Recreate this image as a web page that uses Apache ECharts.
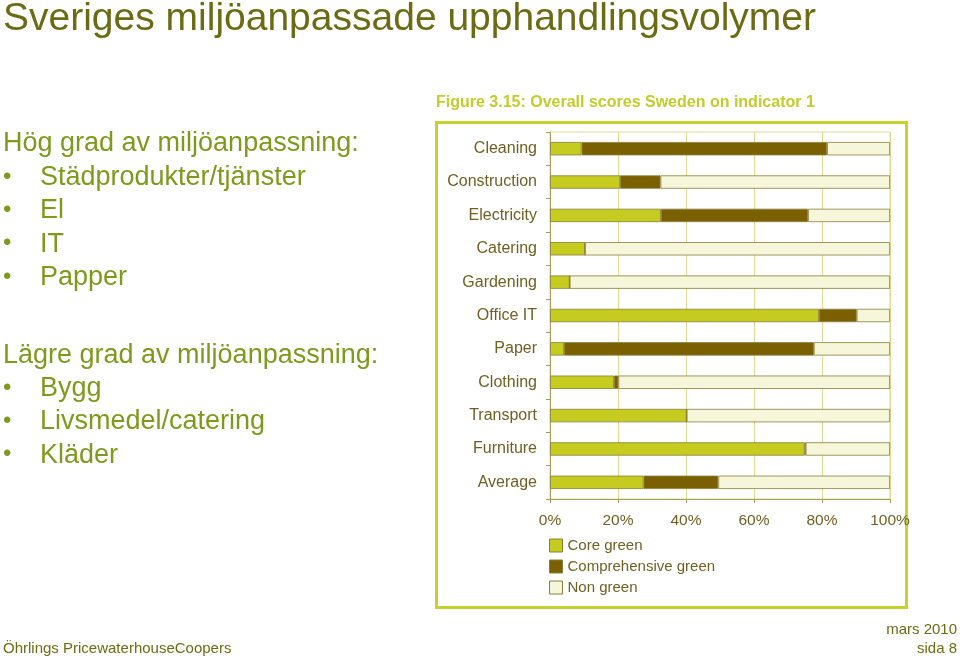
<!DOCTYPE html>
<html><head><meta charset="utf-8">
<script src="https://cdn.jsdelivr.net/npm/echarts@6/dist/echarts.min.js"></script>
<style>html,body{margin:0;padding:0;background:#fff}#c{width:960px;height:658px}</style>
</head><body><div id="c"></div>
<script>
const categories = ['Cleaning','Construction','Electricity','Catering','Gardening','Office IT','Paper','Clothing','Transport','Furniture','Average'];
const coreGreen = [9.3, 20.6, 32.6, 10.3, 5.8, 79.1, 4.1, 18.8, 40.2, 74.9, 27.5];
const comprehensiveGreen = [72.2, 11.9, 43.3, 0, 0, 11.1, 73.5, 1.3, 0, 0.3, 22.0];
const nonGreen = [18.5, 67.5, 24.1, 89.7, 94.2, 9.8, 22.4, 79.9, 59.8, 24.8, 50.5];
const xTicks = ['0%','20%','40%','60%','80%','100%'];
const seriesNames = ['Core green','Comprehensive green','Non green'];
const leftHigh = ['Städprodukter/tjänster','El','IT','Papper'];
const leftLow = ['Bygg','Livsmedel/catering','Kläder'];

const olive = '#6b6b14';
const leftGreen = '#7d9a1c';
const labelCol = '#6e5f22';
const font = 'Liberation Sans, Arial, Helvetica, sans-serif';

const chart = echarts.init(document.getElementById('c'), null, {renderer:'canvas'});

const graphics = [];
graphics.push({type:'text', left:3, top:0, style:{text:'Sveriges miljöanpassade upphandlingsvolymer', font:'39px '+font, fill:olive}});
function addLine(txt, y, bullet){
  if(bullet){
    graphics.push({type:'text', left:3, top:y+1, style:{text:'•', font:'24px '+font, fill:leftGreen}});
    graphics.push({type:'text', left:40, top:y, style:{text:txt, font:'27px '+font, fill:leftGreen}});
  } else {
    graphics.push({type:'text', left:3, top:y, style:{text:txt, font:'27px '+font, fill:leftGreen}});
  }
}
addLine('Hög grad av miljöanpassning:', 130, false);
leftHigh.forEach((t,i)=>addLine(t, 164 + i*33.3, true));
addLine('Lägre grad av miljöanpassning:', 342, false);
leftLow.forEach((t,i)=>addLine(t, 375 + i*33.3, true));

graphics.push({type:'text', left:436, top:95, style:{text:'Figure 3.15: Overall scores Sweden on indicator 1', font:'bold 16px '+font, fill:'#c2cd2c'}});
graphics.push({type:'rect', shape:{x:436.5, y:122.5, width:470, height:485}, style:{fill:null, stroke:'#c6d22e', lineWidth:3}, z:-1});
graphics.push({type:'text', left:3, top:641, style:{text:'Öhrlings PricewaterhouseCoopers', font:'15px '+font, fill:olive}});
graphics.push({type:'text', right:3, top:622, style:{text:'mars 2010', font:'15px '+font, fill:olive, align:'right'}});
graphics.push({type:'text', right:3, top:641, style:{text:'sida 8', font:'15px '+font, fill:olive, align:'right'}});

const colors = ['#c5cc1f','#7a6000','#f6f6da'];
const series = [coreGreen, comprehensiveGreen, nonGreen].map((d,i)=>({
  name: seriesNames[i], type:'bar', stack:'total', data:d, barWidth:'40%',
  itemStyle:{color:colors[i], borderColor:'#8a7e3a', borderWidth:0.8},
  emphasis:{disabled:true}
}));

chart.setOption({
  animation:false,
  textStyle:{fontFamily:font},
  graphic:graphics,
  grid:{left:550, right:70, top:132, bottom:159, show:true, borderColor:'#dcdc9a', borderWidth:1},
  legend:{orient:'vertical', left:549, top:538, padding:0, itemWidth:13, itemHeight:13, itemGap:6,
    icon:'rect', textStyle:{fontSize:15, color:labelCol, fontFamily:font},
    data:seriesNames.map((n,i)=>({name:n, itemStyle:{color:colors[i], borderColor:'#8a7e3a', borderWidth:1}}))},
  xAxis:{type:'value', min:0, max:100, interval:20,
    axisLine:{show:true, lineStyle:{color:'#a99c5c'}},
    axisTick:{show:true, length:4, lineStyle:{color:'#a99c5c'}},
    splitLine:{show:true, lineStyle:{color:'#dcdc8e'}},
    axisLabel:{margin:14, fontSize:15.5, color:labelCol, fontFamily:font,
      formatter:(v)=>xTicks[Math.round(v/20)]}},
  yAxis:{type:'category', data:categories, inverse:true,
    axisLine:{show:true, lineStyle:{color:'#a99c5c'}},
    axisTick:{show:true, length:4, lineStyle:{color:'#a99c5c'}},
    axisLabel:{margin:13, fontSize:16, color:labelCol, fontFamily:font}},
  series:series
});
</script></body></html>
